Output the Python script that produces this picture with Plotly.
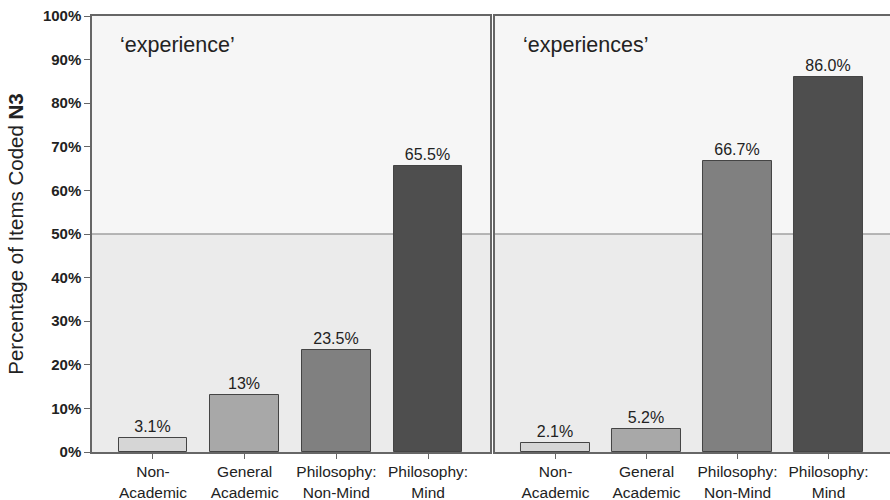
import plotly.graph_objects as go

categories = ["Non-<br>Academic", "General<br>Academic", "Philosophy:<br>Non-Mind", "Philosophy:<br>Mind"]
experience_vals = [3.1, 13.0, 23.5, 65.5]
experience_text = ["3.1%", "13%", "23.5%", "65.5%"]
experiences_vals = [2.1, 5.2, 66.7, 86.0]
experiences_text = ["2.1%", "5.2%", "66.7%", "86.0%"]
panel_titles = ["\u2018experience\u2019", "\u2018experiences\u2019"]
ytick_vals = [0, 10, 20, 30, 40, 50, 60, 70, 80, 90, 100]
ytick_text = [f"{v}%" for v in ytick_vals]
bar_colors = ["#d6d6d6", "#a8a8a8", "#808080", "#4e4e4e"]

FONT = "Liberation Sans, Arial, sans-serif"
xpos = list(range(len(categories)))

fig = go.Figure()
for i, (vals, txt) in enumerate([(experience_vals, experience_text), (experiences_vals, experiences_text)]):
    fig.add_trace(go.Bar(
        x=xpos, y=vals, text=txt, textposition="outside",
        textfont=dict(size=16, color="#222", family=FONT),
        marker=dict(color=bar_colors, line=dict(color="#444", width=1)),
        width=0.75, cliponaxis=False, hoverinfo="skip",
        xaxis="x" if i == 0 else "x2", yaxis="y" if i == 0 else "y2",
        showlegend=False,
    ))

xrange = [-0.665, 3.675]
common_x = dict(range=xrange, tickvals=xpos, ticktext=categories, ticks="outside",
                ticklen=5, tickcolor="#666", showline=True, linecolor="#666", linewidth=1.5,
                mirror=True, showgrid=False, zeroline=False,
                tickfont=dict(size=15.5, color="#222", family=FONT))
common_y = dict(range=[0, 100], showgrid=False, zeroline=False, showline=True,
                linecolor="#666", linewidth=1.5, mirror=True)

fig.update_layout(
    width=890, height=500,
    margin=dict(l=92, r=0, t=16, b=48, autoexpand=False),
    paper_bgcolor="white", plot_bgcolor="rgba(0,0,0,0)",
    font=dict(family=FONT),
    bargap=0,
    xaxis=dict(domain=[0, 0.4987], anchor="y", **common_x),
    xaxis2=dict(domain=[0.505, 1.0], anchor="y2", **common_x),
    yaxis=dict(anchor="x", tickvals=ytick_vals, ticktext=[f"<b>{t}</b>" for t in ytick_text],
               ticks="outside", ticklen=6, tickcolor="#666",
               tickfont=dict(size=15, color="#222", family=FONT),
               title=dict(text="Percentage of Items Coded <b>N3</b>", font=dict(size=20.5, color="#222", family=FONT), standoff=14),
               **common_y),
    yaxis2=dict(anchor="x2", showticklabels=False, ticks="", **common_y),
)

for xr, yr in [("x", "y"), ("x2", "y2")]:
    fig.add_shape(type="rect", xref=f"{xr} domain", yref=yr, x0=0, x1=1, y0=50, y1=100,
                  fillcolor="#f6f6f6", line=dict(width=0), layer="below")
    fig.add_shape(type="rect", xref=f"{xr} domain", yref=yr, x0=0, x1=1, y0=0, y1=50,
                  fillcolor="#ebebeb", line=dict(width=0), layer="below")
    fig.add_shape(type="line", xref=f"{xr} domain", yref=yr, x0=0, x1=1, y0=50, y1=50,
                  line=dict(color="#a0a0a0", width=1.5), layer="below")

for xr, yr, t in [("x", "y", panel_titles[0]), ("x2", "y2", panel_titles[1])]:
    fig.add_annotation(xref=f"{xr} domain", yref=f"{yr} domain", x=0.065, y=0.933,
                       text=t, showarrow=False, xanchor="left", yanchor="middle",
                       font=dict(size=21.5, color="#222", family=FONT))

fig.write_html("out.html", config={"displayModeBar": False},
               post_script="document.body.style.margin='0';")
